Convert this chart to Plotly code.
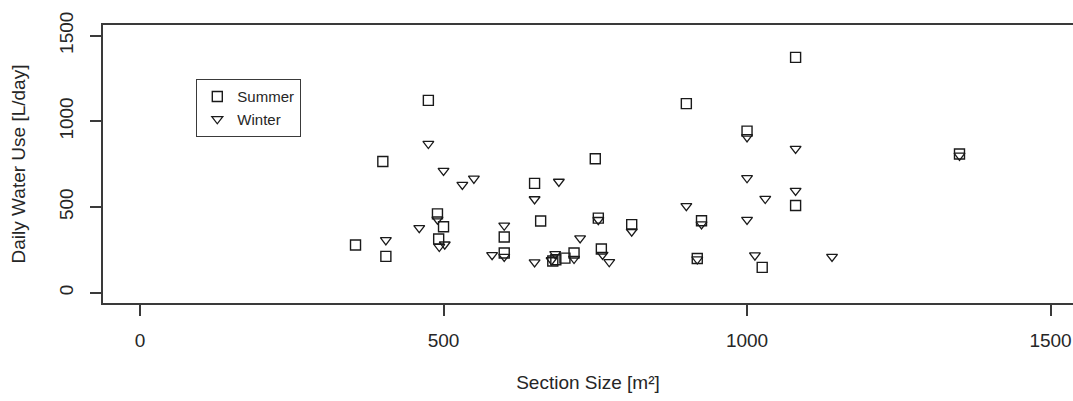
import plotly.graph_objects as go

summer_x = [355, 405, 400, 475, 490, 492, 500, 600, 600, 650, 660, 685, 680, 700, 715,
            750, 755, 760, 810, 900, 918, 925, 1000, 1025, 1080, 1080, 1350]
summer_y = [278, 212, 766, 1122, 460, 313, 385, 325, 232, 638, 418, 192, 185, 202, 232,
            782, 435, 255, 397, 1103, 200, 420, 943, 148, 1373, 509, 809]

winter_x = [405, 460, 475, 490, 493, 502, 500, 531, 550, 580, 600, 600, 650, 650, 678,
            684, 690, 715, 725, 755, 762, 773, 810, 900, 918, 925, 1000, 1000, 1000,
            1013, 1030, 1080, 1080, 1140, 1350]
winter_y = [307, 378, 869, 428, 268, 282, 712, 630, 666, 220, 392, 210, 546, 178, 190,
            226, 648, 198, 318, 425, 222, 179, 358, 506, 195, 400, 908, 669, 426,
            218, 548, 840, 595, 210, 800]

x_ticks = [0, 500, 1000, 1500]
y_ticks = [0, 500, 1000, 1500]

FONT = "Liberation Sans, Arial, sans-serif"
LINE = "#3a3a3a"
TEXT = "#262626"

fig = go.Figure()
fig.add_trace(go.Scatter(
    x=summer_x, y=summer_y, mode="markers", name="Summer",
    marker=dict(symbol="square-open", size=10, color="#1a1a1a", line=dict(width=1.4, color="#1a1a1a")),
))
fig.add_trace(go.Scatter(
    x=winter_x, y=winter_y, mode="markers", name="Winter",
    marker=dict(symbol="triangle-down-open", size=9.5, color="#1a1a1a", line=dict(width=1.3, color="#1a1a1a")),
))

fig.update_layout(
    width=1073, height=401,
    margin=dict(l=103, r=0, t=25, b=98, autoexpand=False),
    paper_bgcolor="white", plot_bgcolor="white",
    font=dict(family=FONT, size=19, color=TEXT),
    showlegend=True,
    legend=dict(
        x=(196 - 103) / 970, y=(303 - 79) / 278, xanchor="left", yanchor="top",
        bordercolor=LINE, borderwidth=1.3, bgcolor="white",
        font=dict(size=15, color=TEXT),
        itemwidth=30, tracegroupgap=0,
    ),
    xaxis=dict(
        range=[-61, 1537], tickvals=x_ticks, ticktext=[str(v) for v in x_ticks],
        showgrid=False, zeroline=False, automargin=False,
        showline=True, mirror=True, linecolor=LINE, linewidth=1.5,
        ticks="outside", ticklen=11, tickwidth=1.5, tickcolor=LINE,
        ticklabelstandoff=8,
        title=dict(text="Section Size [m²]", standoff=26, font=dict(size=19, color=TEXT)),
    ),
    yaxis=dict(
        range=[-60, 1562], tickvals=y_ticks, ticktext=[str(v) for v in y_ticks],
        showgrid=False, zeroline=False, automargin=False,
        showline=True, mirror=False, linecolor=LINE, linewidth=1.5,
        ticks="outside", ticklen=11, tickwidth=1.5, tickcolor=LINE,
        tickangle=-90, ticklabelstandoff=10,
        title=dict(text="Daily Water Use [L/day]", standoff=25, font=dict(size=19, color=TEXT)),
    ),
)

# remove the default 8px page margin so the figure fills the window exactly
fig.write_html(
    "out.html",
    config={"displayModeBar": False},
    post_script="document.body.style.margin='0';document.body.style.overflow='hidden';",
)
